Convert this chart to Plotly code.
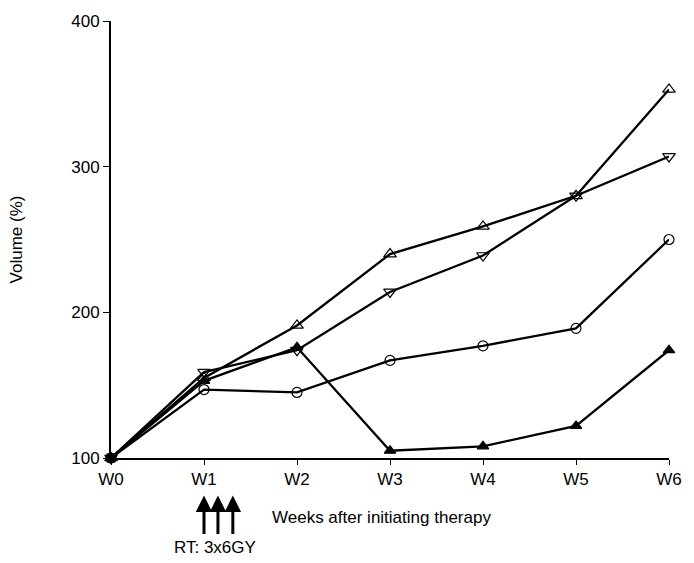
import plotly.graph_objects as go

weeks = ["W0", "W1", "W2", "W3", "W4", "W5", "W6"]
x_pos = [0, 1, 2, 3, 4, 5, 6]
s_up_open = [100, 155, 191, 240, 259, 280, 353]
s_down_open = [100, 159, 174, 214, 239, 280, 307]
s_circle = [100, 147, 145, 167, 177, 189, 250]
s_up_filled = [100, 153, 176, 105, 108, 122, 174]
y_ticks = [100, 200, 300, 400]
rt_arrows = [1.0, 1.15, 1.31]

fig = go.Figure()
series = [
    (s_circle, "circle-open", 10),
    (s_up_filled, "triangle-up", 10),
    (s_down_open, "triangle-down-open", 11),
    (s_up_open, "triangle-up-open", 11),
]
for vals, sym, sz in series:
    fig.add_trace(go.Scatter(
        x=x_pos, y=vals, mode="lines+markers",
        line=dict(color="black", width=2.3),
        marker=dict(symbol=sym, size=sz, color="black",
                    line=dict(color="black", width=1.2)),
        cliponaxis=False, showlegend=False))

fig.add_trace(go.Scatter(x=[0], y=[100], mode="markers",
                         marker=dict(symbol="square", size=9, color="black"),
                         cliponaxis=False, showlegend=False))

fam = "Liberation Sans, Arial, sans-serif"
font = dict(family=fam, size=17, color="black")

fig.update_layout(
    width=694, height=563,
    margin=dict(l=111, r=14, t=16, b=105),
    plot_bgcolor="white", paper_bgcolor="white",
    font=font,
    xaxis=dict(range=[0, 6], tickvals=x_pos, ticktext=weeks,
               showline=True, linecolor="black", linewidth=2,
               ticks="outside", ticklen=5, tickcolor="black",
               showgrid=False, zeroline=False, tickfont=font),
    yaxis=dict(range=[100, 400], tickvals=y_ticks,
               showline=True, linecolor="black", linewidth=2,
               ticks="outside", ticklen=6, tickcolor="black",
               showgrid=False, zeroline=False, tickfont=font,
               title=dict(text="Volume (%)", font=dict(family=fam, size=17),
                          standoff=44)),
)

fig.add_annotation(text="Weeks after initiating therapy", xref="paper", yref="paper",
                   x=(273 - 111) / 569, y=-(518 - 458) / 442, xanchor="left", yanchor="middle",
                   showarrow=False, font=dict(family=fam, size=17))
fig.add_annotation(text="RT: 3x6GY", xref="paper", yref="paper",
                   x=(217 - 111) / 569, y=-(549 - 458) / 442, xanchor="center", yanchor="middle",
                   showarrow=False, font=dict(family=fam, size=17))
for xa in rt_arrows:
    fig.add_annotation(text="", xref="x", yref="paper", x=xa, y=-(496 - 458) / 442,
                       ax=0, ay=40, showarrow=True, arrowhead=2, arrowsize=1.1,
                       arrowwidth=3, arrowcolor="black")

fig.write_html("out.html")
